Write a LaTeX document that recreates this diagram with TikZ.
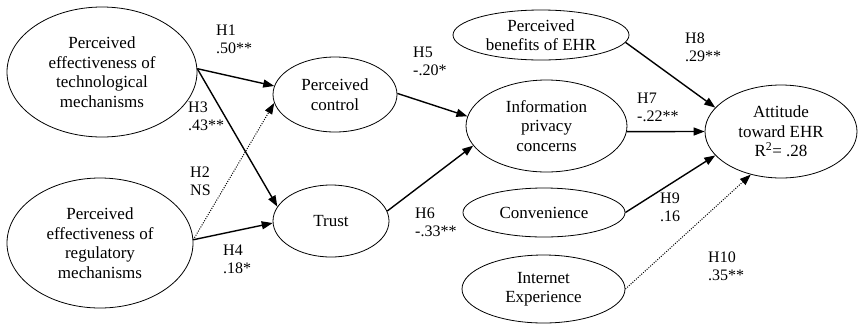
\documentclass[tikz,border=0pt]{standalone}
\usepackage{fontspec}
\setmainfont{Liberation Serif}
\usetikzlibrary{shapes.geometric, arrows.meta}

\tikzset{
    construct/.style={draw, ellipse, inner sep=0pt, align=center, line width=0.8pt, font=\fontsize{17}{19.5}\selectfont},
    effect/.style={line width=1.4pt, -{Triangle[length=11pt, width=8pt]}},
    weak/.style={line width=1pt, dash pattern=on 1pt off 1.4pt, -{Triangle[length=11pt, width=8pt]}},
    hyp/.style={anchor=base west, align=left, inner sep=0pt, font=\fontsize{16}{18}\selectfont}
}

\begin{document}
\begin{tikzpicture}[x=1pt, y=-1pt]
    \useasboundingbox (0,0) rectangle (858,325);

    % Antecedents
    \node[construct, minimum width=190pt, minimum height=130pt] (techmech) at (102,72) {Perceived\\effectiveness of\\technological\\mechanisms};
    \node[construct, minimum width=186pt, minimum height=130pt] (regmech) at (100,243) {Perceived\\effectiveness of\\regulatory\\mechanisms};

    % Mediators
    \node[construct, minimum width=124pt, minimum height=75pt] (control) at (335,94.5) {Perceived\\control};
    \node[construct, minimum width=116pt, minimum height=72pt] (trust) at (331,221) {Trust};
    \node[construct, minimum width=161pt, minimum height=92pt] (privacy) at (546.5,126) {Information\\privacy\\concerns};

    % Other predictors
    \node[construct, minimum width=176pt, minimum height=50pt] (benefits) at (541,35) {Perceived\\benefits of EHR};
    \node[construct, minimum width=162pt, minimum height=49pt] (conven) at (544,212.5) {Convenience};
    \node[construct, minimum width=163pt, minimum height=68pt] (internet) at (543.5,289) {Internet\\Experience};

    % Outcome
    \node[construct, minimum width=152pt, minimum height=93pt] (attitude) at (781,131.5) {Attitude\\toward EHR\\R\textsuperscript{2}= .28};

    % Paths
    \draw[effect] (techmech.2) -- (control.172);
    \draw[effect] (techmech.2) -- (trust.165);
    \draw[weak] (regmech.2) -- (control.188);
    \draw[effect] (regmech.2) -- (trust.182);
    \draw[effect] (control.1) -- (privacy.173);
    \draw[effect] (trust.10) -- (privacy.195);
    \draw[effect] (privacy.356) -- (attitude.180);
    \draw[effect] (benefits.355) -- (attitude.160);
    \draw[effect] (conven.0) -- (attitude.200);
    \draw[weak] (internet.0) -- (attitude.235);

    % Hypothesis labels (base = second line)
    \node[hyp] (h1) at (216,53.5) {H1\\.50**};
    \node[hyp] (h2) at (190,195.5) {H2\\NS};
    \node[hyp] (h3) at (188,130.5) {H3\\.43**};
    \node[hyp] (h4) at (223,273.5) {H4\\.18*};
    \node[hyp] (h5) at (413,75.5) {H5\\-.20*};
    \node[hyp] (h6) at (415,236.5) {H6\\-.33**};
    \node[hyp] (h7) at (637,121.5) {H7\\-.22**};
    \node[hyp] (h8) at (685,61.5) {H8\\.29**};
    \node[hyp] (h9) at (660,221.5) {H9\\.16};
    \node[hyp] (h10) at (708,280.5) {H10\\.35**};
\end{tikzpicture}
\end{document}
